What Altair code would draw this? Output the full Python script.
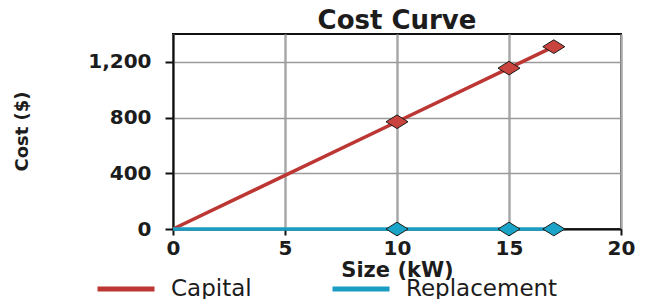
import altair as alt
import pandas as pd

# ---- data ----
chart_title = ["Cost Curve"]
sizes = [0, 10, 15, 17]
capital = [0, 770, 1155, 1309]
replacement = [0, 0, 0, 0]
series_names = ["Capital", "Replacement"]
line_colors = ["#BC3733", "#1B9CC2"]
marker_fills = ["#C9443E", "#1AA5C8"]
x_ticks = [0, 5, 10, 15, 20]
y_ticks = [0, 200, 400, 600, 800, 1000, 1200, 1400]

rows = []
for s, c in zip(sizes, capital):
    rows.append({"size": s, "cost": c, "series": "Capital"})
for s, r in zip(sizes, replacement):
    rows.append({"size": s, "cost": r, "series": "Replacement"})
df = pd.DataFrame(rows)

FONT = "DejaVu Sans"
TXT = "#1c1c1c"

x_enc = alt.X(
    "size:Q",
    scale=alt.Scale(domain=[0, 20], nice=False, zero=False),
    axis=alt.Axis(
        values=x_ticks,
        title="Size (kW)",
        format="d",
        labelFont=FONT,
        labelFontSize=20,
        labelFontWeight="bold",
        labelColor=TXT,
        labelPadding=3,
        labelFlush=False,
        tickSize=6,
        titleFont=FONT,
        titleFontSize=21,
        titleFontWeight="bold",
        titleColor=TXT,
        titleBaseline="alphabetic",
        titleY=47,
        gridColor="#a8a8a8",
        gridWidth=2.5,
    ),
)
y_enc = alt.Y(
    "cost:Q",
    scale=alt.Scale(domain=[0, 1400], nice=False),
    axis=alt.Axis(
        values=y_ticks,
        labelExpr="datum.value % 400 == 0 ? format(datum.value, ',') : ''",
        title="Cost ($)",
        labelFont=FONT,
        labelFontSize=20,
        labelFontWeight="bold",
        labelColor=TXT,
        labelPadding=14,
        tickSize=8,
        titleFont=FONT,
        titleFontSize=18,
        titleFontWeight="bold",
        titleColor=TXT,
        titleAngle=270,
        titleAlign="center",
        titleBaseline="middle",
        titleX=-151,
        titleY=97,
        gridColor="#9a9a9a",
        gridWidth=1.6,
    ),
)

lines = alt.Chart(df).mark_line(strokeWidth=3.6).encode(
    x=x_enc,
    y=y_enc,
    color=alt.Color(
        "series:N",
        scale=alt.Scale(domain=series_names, range=line_colors),
        legend=alt.Legend(
            title=None,
            orient="none",
            direction="horizontal",
            legendX=-78,
            legendY=224,
            symbolType="stroke",
            symbolSize=3249,
            symbolStrokeWidth=5,
            labelFont=FONT,
            labelFontSize=23,
            labelColor=TXT,
            labelOffset=14,
            labelLimit=400,
            columnPadding=70,
        ),
    ),
)

diamond = "M -1 0 L 0 -0.62 L 1 0 L 0 0.62 Z"
points = alt.Chart(df).transform_filter("datum.size > 0").mark_point(
    shape=diamond, filled=True, size=484, stroke="#1a1a1a", strokeWidth=1, opacity=1
).encode(
    x="size:Q",
    y="cost:Q",
    fill=alt.Fill(
        "series:N",
        scale=alt.Scale(domain=series_names, range=marker_fills),
        legend=None,
    ),
)

title_layer = alt.Chart(pd.DataFrame({"t": chart_title})).mark_text(
    font=FONT,
    fontSize=26,
    fontWeight="bold",
    color=TXT,
    align="center",
    baseline="alphabetic",
).encode(text="t:N", x=alt.value(224), y=alt.value(-5))

chart = (
    alt.layer(lines, points, title_layer)
    .properties(
        width=448,
        height=195,
        autosize=alt.AutoSizeParams(type="none"),
        padding={"left": 165, "top": 26, "right": 19, "bottom": 70},
    )
    .configure_view(stroke="#111111", strokeWidth=2)
    .configure_axis(
        domainColor="#111111",
        domainWidth=2,
        tickColor="#111111",
        tickWidth=2,
    )
)

chart.save("out.html", embed_options={"renderer": "svg", "actions": False})
